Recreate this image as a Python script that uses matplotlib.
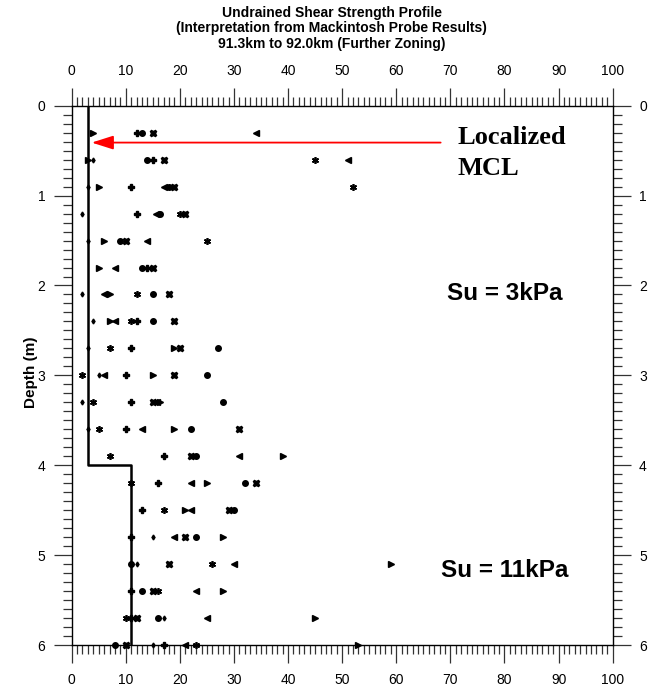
import numpy as np
import matplotlib
matplotlib.use("Agg")
import matplotlib.pyplot as plt
from matplotlib.ticker import MultipleLocator

plt.rcParams['font.family'] = ['Liberation Sans', 'DejaVu Sans']

nan = np.nan
depth = [0.3, 0.6, 0.9, 1.2, 1.5, 1.8, 2.1, 2.4, 2.7, 3.0,
         3.3, 3.6, 3.9, 4.2, 4.5, 4.8, 5.1, 5.4, 5.7, 6.0]

# undrained shear strength (kPa) for each probe
su_right_tri = [4, 3, 5, nan, 6, 5, 7, 7, 19, 15, 16.4, 19, 39, 25, 21, 28, 59, 28, 45, 53]
su_left_tri = [34, 51, 17, 15.6, 14, 8, 6, 8, nan, 6, 15.8, 13, 31, 22, 22, 19, 30, 23, 25, 21]
su_plus = [12, 15, 11, 12, nan, 14, nan, 12, 11, 10, 11, 10, 17, 16, 13, 11, nan, 11, 11, 17]
su_circle = [13, 14, 18, 16.4, 9, 13, 15, 15, 27, 25, 28, 22, 23, 32, 30, 23, 11, 13, 16, 8]
su_cross = [15, 17, 19, 21, 10, 15, 18, 19, 20, 19, 15, 31, 22, 34, 29, 21, 18, 15, 12, 10]
su_star = [nan, 45, 52, 20, 25, nan, 12, 11, 7, 2, 4, 5, 7, 11, 17, nan, 26, 16, 10, 23]
su_small = [nan, 4, 3, 2, 3, nan, 2, 4, 3, 5, 2, 3, nan, nan, nan, 15, 12, nan, 17, 15]

# design profile
profile_su = [3, 3, 11, 11]
profile_depth = [0, 4, 4, 6]

fig = plt.figure(figsize=(6.63, 6.87), dpi=100)
ax = fig.add_axes([0.1081, 0.0611, 0.816, 0.785])

ax.plot(profile_su, profile_depth, color='black', lw=1.8, zorder=2)

series = [
    (su_right_tri, '>', 4.5, 1),
    (su_left_tri, '<', 4.5, 1),
    (su_plus, 'P', 4.5, 1),
    (su_circle, 'o', 4, 1),
    (su_cross, 'X', 4.5, 1),
    (su_star, (6, 2, 0), 5, 1.2),
    (su_small, 'd', 2.5, 1),
]
for vals, mk, ms, mew in series:
    ax.plot(vals, depth, linestyle='none', marker=mk, ms=ms, mew=mew, color='black',
            mec='black', clip_on=False, zorder=3)

ax.set_xlim(0, 100)
ax.set_ylim(6, 0)

ax.xaxis.set_major_locator(MultipleLocator(10))
ax.xaxis.set_minor_locator(MultipleLocator(1))
ax.yaxis.set_major_locator(MultipleLocator(1))
ax.yaxis.set_minor_locator(MultipleLocator(0.1))

ax.tick_params(axis='both', which='both', direction='out', color='#333333', width=0.9,
               top=True, bottom=True, left=True, right=True)
ax.tick_params(axis='x', which='both', labeltop=True, labelbottom=True)
ax.tick_params(axis='y', which='both', labelleft=True, labelright=True)
ax.tick_params(which='major', length=13)
ax.tick_params(which='minor', length=6.5)
ax.tick_params(axis='x', which='major', pad=7, labelsize=10)
ax.tick_params(axis='y', which='major', pad=6, labelsize=10)

for sp in ax.spines.values():
    sp.set_linewidth(1.0)

fig.text(0.5, 1 - 6 / 687,
         "Undrained Shear Strength Profile\n(Interpretation from Mackintosh Probe Results)\n"
         "91.3km to 92.0km (Further Zoning)",
         ha='center', va='top', fontsize=10, fontweight='bold', linespacing=1.12)
fig.text(31 / 663, 1 - 372 / 687, "Depth (m)", rotation=90, ha='center', va='center',
         fontsize=11, fontweight='bold')

ax.annotate("", xy=(3.7, 0.41), xytext=(68.2, 0.41),
            arrowprops=dict(arrowstyle='-|>,head_length=1.1,head_width=0.35',
                            color='red', lw=1.3, mutation_scale=12,
                            shrinkA=0, shrinkB=0))

ax.text(71.4, 0.426, "Localized", family=['Liberation Serif', 'DejaVu Serif'],
        fontsize=19, fontweight='bold', ha='left', va='baseline')
ax.text(71.4, 0.771, "MCL", family=['Liberation Serif', 'DejaVu Serif'],
        fontsize=19, fontweight='bold', ha='left', va='baseline')

ax.text(80, 2.16, "Su = 3kPa", fontsize=17.5, fontweight='bold', ha='center', va='baseline')
ax.text(80, 5.24, "Su = 11kPa", fontsize=17.5, fontweight='bold', ha='center', va='baseline')

fig.savefig("out.png", dpi=100)
